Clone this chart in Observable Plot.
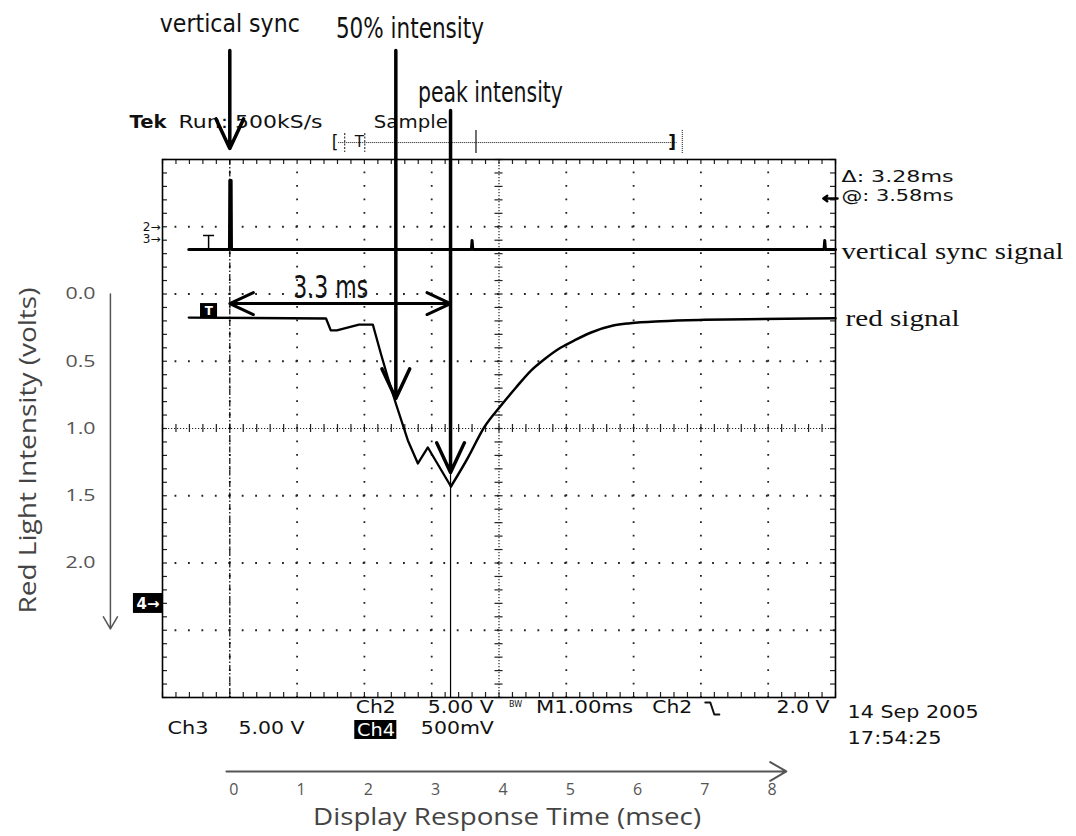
<!DOCTYPE html>
<html><head><meta charset="utf-8">
<script src="https://cdn.jsdelivr.net/npm/d3@7"></script>
<script src="https://cdn.jsdelivr.net/npm/@observablehq/plot@0.6"></script>
<style>body{margin:0;background:#fff} svg{display:block}</style>
</head><body><div id="chart"></div>
<script>
// ---------- data (time in ms from the vertical sync trigger, level in volts of Ch4) ----------
const timeTicks = [0, 1, 2, 3, 4, 5, 6, 7, 8];
const voltTicks = [0.0, 0.5, 1.0, 1.5, 2.0];
const redTime  = [-0.61, 1.43, 1.50, 1.59, 1.92, 2.125, 2.244, 2.348, 2.467, 2.646, 2.795, 2.943, 3.286, 3.539, 3.777, 4.03, 4.253, 4.476, 4.67, 4.92, 5.116, 5.369, 5.696, 5.949, 6.41, 7.05, 7.69, 9.0];
const redVolts = [0.175, 0.182, 0.271, 0.271, 0.227, 0.227, 0.442, 0.621, 0.814, 1.089, 1.260, 1.141, 1.431, 1.216, 0.993, 0.829, 0.695, 0.569, 0.487, 0.398, 0.346, 0.286, 0.234, 0.217, 0.202, 0.192, 0.187, 0.180];
const syncTime  = [-0.61, -0.005, 0.0, 0.02, 0.025, 3.59, 3.60, 3.61, 8.83, 8.84, 8.85, 9.0];
const syncVolts = [-0.331, -0.331, -0.844, -0.844, -0.331, -0.331, -0.398, -0.331, -0.331, -0.398, -0.331, -0.331];
const triggerTime = 0;
const fiftyTime = 2.467;
const peakTime = 3.28;
const deltaText = "Δ: 3.28ms";
const atText = "@: 3.58ms";

// ---------- rendering ----------
const red = redTime.map((t, i) => ({t, v: redVolts[i]}));
const iPeak = redVolts.indexOf(d3.max(redVolts));
const redFall = red.slice(0, iPeak + 1);
const redRise = red.slice(iPeak);
const sync = syncTime.map((t, i) => ({t, v: syncVolts[i]}));
const gridX = timeTicks.filter(d => d !== 4);
const gridY = [-0.5, 0, 0.5, 1.5, 2, 2.5];
const xMinor = d3.range(0, 51).map(i => -1 + i * 0.2);
const yMinor = d3.range(0, 41).map(i => -1 + i * 0.1);

const TEK = "DejaVu Sans";
const T = (text, x, y, o = {}) => Plot.text([text], {x, y, text: d => d, textAnchor: "start", lineAnchor: "middle", fill: "#111", fontFamily: TEK, fontSize: 18, ...o});
const A = (x1, y1, x2, y2, o = {}) => Plot.arrow([0], {x1, y1, x2, y2, stroke: "black", strokeWidth: 3.5, headLength: 14, headAngle: 50, ...o});
const C = (text, x, y, size) => Plot.text([text], {x, y, text: d => d, textAnchor: "middle", lineAnchor: "middle", fill: "#111", fontFamily: "DejaVu Sans", fontSize: size});

const svg = Plot.plot({
  width: 1076, height: 836,
  marginLeft: 162, marginRight: 241, marginTop: 159, marginBottom: 139,
  x: {domain: [-1, 9]},
  y: {domain: [-1, 3], reverse: true},
  style: {background: "white"},
  marks: [
    // graticule
    Plot.ruleX(gridX, {stroke: "#222", strokeWidth: 1.8, strokeDasharray: "1.8 11.65", strokeDashoffset: 0.9}),
    Plot.ruleY(gridY, {stroke: "#222", strokeWidth: 1.8, strokeDasharray: "1.8 11.64", strokeDashoffset: 0.9}),
    Plot.ruleX([4], {stroke: "#222", strokeWidth: 1.2, strokeDasharray: "1.2 1.8"}),
    Plot.ruleY([1], {stroke: "#222", strokeWidth: 1.2, strokeDasharray: "1.2 1.8"}),
    Plot.ruleX(xMinor, {x: d => d, y1: 1 - 0.03, y2: 1 + 0.03, stroke: "#222", strokeWidth: 1.2}),
    Plot.ruleY(yMinor, {y: d => d, x1: 4 - 0.06, x2: 4 + 0.06, stroke: "#222", strokeWidth: 1.2}),
    Plot.ruleX(xMinor, {x: d => d, y1: -1, y2: -1 + 0.037, stroke: "#222", strokeWidth: 1.2}),
    Plot.ruleX(xMinor, {x: d => d, y1: 3, y2: 3 - 0.037, stroke: "#222", strokeWidth: 1.2}),
    Plot.ruleY(yMinor, {y: d => d, x1: -1, x2: -1 + 0.074, stroke: "#222", strokeWidth: 1.2}),
    Plot.ruleY(yMinor, {y: d => d, x1: 9, x2: 9 - 0.074, stroke: "#222", strokeWidth: 1.2}),
    Plot.frame({stroke: "black", strokeWidth: 1.6}),
    // trigger and cursor
    Plot.ruleX([triggerTime], {stroke: "black", strokeWidth: 1.2, strokeDasharray: "6 2 1.5 2"}),
    Plot.ruleX([peakTime], {stroke: "black", strokeWidth: 1.2}),
    // traces
    Plot.line(sync, {x: "t", y: "v", stroke: "black", strokeWidth: 3}),
    Plot.line(redFall, {x: "t", y: "v", stroke: "black", strokeWidth: 2.3}),
    Plot.line(redRise, {x: "t", y: "v", stroke: "black", strokeWidth: 2.5, curve: "monotone-x"}),
    // trace markers
    Plot.ruleX([-0.315], {y1: -0.435, y2: -0.331, stroke: "black", strokeWidth: 1.5}),
    Plot.ruleY([-0.435], {x1: -0.39, x2: -0.226, stroke: "black", strokeWidth: 1.5}),
    Plot.rect([0], {x1: -0.435, x2: -0.182, y1: 0.071, y2: 0.175, fill: "black"}),
    T("T", -0.31, 0.125, {textAnchor: "middle", fill: "white", fontSize: 12, fontWeight: "bold"}),
    T("2→", -1.03, -0.497, {textAnchor: "end", fontSize: 12}),
    T("3→", -1.03, -0.405, {textAnchor: "end", fontSize: 12}),
    Plot.rect([0], {x1: -1.432, x2: -1.0, y1: 2.227, y2: 2.375, fill: "black"}),
    T("4→", -1.216, 2.303, {textAnchor: "middle", fill: "white", fontSize: 15, fontWeight: "bold"}),
    // record bar
    T("[", 1.515, -1.126, {fontSize: 17}),
    T("T", 1.857, -1.126, {fontSize: 15}),
    Plot.ruleX([1.708, 2.006], {y1: -1.193, y2: -1.052, stroke: "#111", strokeWidth: 1, strokeDasharray: "2 1.5"}),
    Plot.ruleY([-1.126], {x1: 1.619, x2: 6.649, stroke: "#111", strokeWidth: 1, strokeDasharray: "1 1"}),
    Plot.ruleX([3.658], {y1: -1.216, y2: -1.045, stroke: "#111", strokeWidth: 1.2}),
    T("]", 6.515, -1.126, {fontSize: 17, fontWeight: "bold"}),
    Plot.ruleX([6.723], {y1: -1.216, y2: -1.045, stroke: "#111", strokeWidth: 1, strokeDasharray: "1 1"}),
    // scope readouts
    T("Tek", -1.491, -1.275, {fontWeight: "bold"}),
    T("Run: 500kS/s", -0.762, -1.275),
    T("Sample", 2.14, -1.275),
    T(deltaText, 9.089, -0.868, {fontSize: 16}),
    T(atText, 9.089, -0.728, {fontSize: 16}),
    A(9.03, -0.71, 8.82, -0.71, {strokeWidth: 2.5, headLength: 8, headAngle: 70}),
    T("Ch2", 1.872, 3.074),
    T("5.00 V", 2.943, 3.074),
    T("BW", 4.149, 3.05, {fontSize: 8}),
    T("M1.00ms", 4.551, 3.074),
    T("Ch2", 6.277, 3.074),
    Plot.line([[7.065, 3.037], [7.14, 3.037], [7.199, 3.126], [7.274, 3.126]], {stroke: "#111", strokeWidth: 2}),
    T("2.0 V", 8.122, 3.074),
    T("Ch3", -0.926, 3.23),
    T("5.00 V", 0.131, 3.23),
    Plot.rect([0], {x1: 1.857, x2: 2.482, y1: 3.171, y2: 3.312, fill: "black"}),
    T("Ch4", 1.89, 3.24, {fill: "white"}),
    T("500mV", 2.839, 3.23),
    T("14 Sep 2005", 9.179, 3.112),
    T("17:54:25", 9.179, 3.305),
    // channel labels
    T("vertical sync signal", 9.089, -0.316, {fontFamily: "Liberation Serif", fontSize: 24}),
    T("red signal", 9.149, 0.182, {fontFamily: "Liberation Serif", fontSize: 24}),
    // annotations
    C("vertical sync", 0.0, -2.004, 25),
    C("50% intensity", 2.676, -1.969, 29),
    C("peak intensity", 3.873, -1.493, 29),
    C("3.3 ms", 1.5, -0.05, 32),
    A(triggerTime, -1.81, triggerTime, -1.082),
    A(fiftyTime, -1.81, fiftyTime, 0.777),
    A(peakTime, -1.364, peakTime, 1.327),
    A(1.64, 0.071, triggerTime, 0.071, {strokeWidth: 3, headLength: 13}),
    A(1.64, 0.071, peakTime, 0.071, {strokeWidth: 3, headLength: 13}),
    // axes
    Plot.axisY(voltTicks, {tickSize: 0, tickPadding: 67, tickFormat: d3.format(".1f"), fontSize: 17, fill: "#555", fontFamily: "Open Sans", label: null}),
    Plot.axisX(timeTicks, {tickSize: 0, tickPadding: 86, dx: 4, fontSize: 16, fill: "#555", fontFamily: "Open Sans", label: null}),
    A(-0.05, 3.55, 8.27, 3.55, {stroke: "#555", strokeWidth: 2, headLength: 14, headAngle: 60}),
    A(-1.774, 0.0, -1.774, 2.49, {stroke: "#555", strokeWidth: 1.5, headLength: 14, headAngle: 60}),
    Plot.text(["Red Light Intensity (volts)"], {x: -2.99, y: 1.164, text: d => d, rotate: -90, textAnchor: "middle", lineAnchor: "middle", fill: "#444", fontFamily: "Open Sans", fontSize: 24}),
    Plot.text(["Display Response Time (msec)"], {x: 4.12, y: 3.892, text: d => d, textAnchor: "middle", lineAnchor: "middle", fill: "#444", fontFamily: "Open Sans", fontSize: 24})
  ]
});

const fit = new Map([
  ["Tek", 37], ["Run: 500kS/s", 144], ["Sample", 74], [deltaText, 112], [atText, 112],
  ["vertical sync signal", 222], ["red signal", 114], ["Ch2", 40], ["5.00 V", 66], ["M1.00ms", 97],
  ["2.0 V", 53], ["Ch3", 41], ["Ch4", 38], ["500mV", 73], ["14 Sep 2005", 131], ["17:54:25", 94],
  ["vertical sync", 140], ["50% intensity", 148], ["peak intensity", 145], ["3.3 ms", 75],
  ["Red Light Intensity (volts)", 326], ["Display Response Time (msec)", 388],
  ["0.0", 30], ["0.5", 30], ["1.0", 30], ["1.5", 30], ["2.0", 30]
]);
d3.select(svg).selectAll("text").each(function() {
  const t = this.textContent;
  if (fit.has(t)) {
    this.setAttribute("textLength", fit.get(t));
    this.setAttribute("lengthAdjust", "spacingAndGlyphs");
  }
});
document.getElementById("chart").appendChild(svg);
</script>
</body></html>
